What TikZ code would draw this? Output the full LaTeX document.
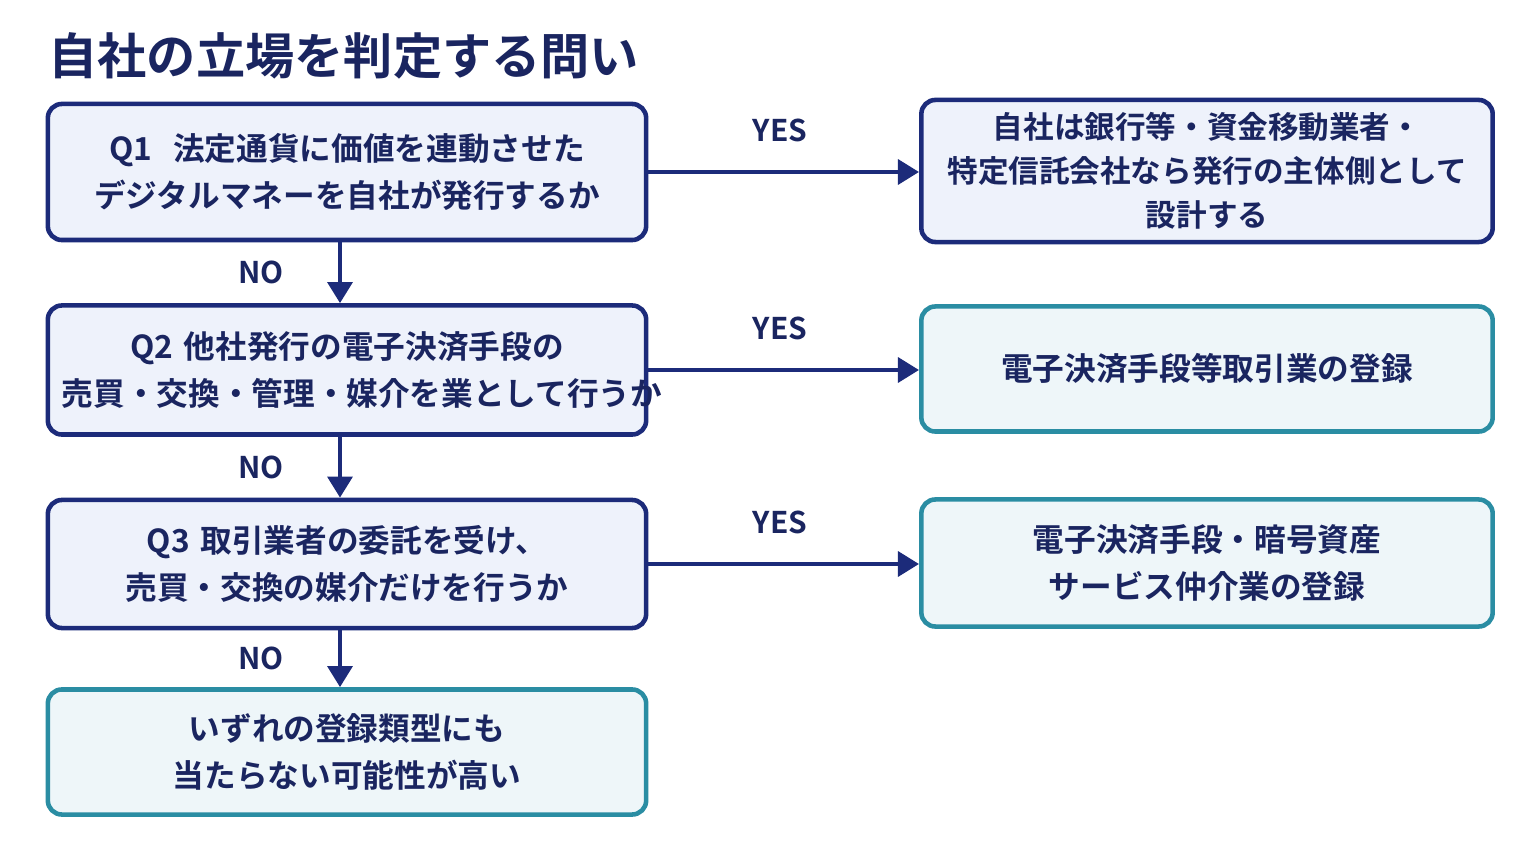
\documentclass[tikz,border=0pt]{standalone}
\usepackage{fontspec}
\setmainfont{Noto Sans CJK JP}[BoldFont={Noto Sans CJK JP Bold}]
\usetikzlibrary{positioning,arrows.meta}
\definecolor{navy}{HTML}{1C2B7A}
\definecolor{ink}{HTML}{1A2560}
\definecolor{teal}{HTML}{2A8DA3}
\definecolor{qfill}{HTML}{EEF2FB}
\definecolor{afill}{HTML}{EEF6F9}
\tikzset{
  qbox/.style={draw=navy, fill=qfill, line width=1.3pt, rounded corners=4pt, align=center,
    text width=5.7cm, inner sep=0pt, minimum width=5.98cm, minimum height=1.32cm,
    font=\bfseries\fontsize{9pt}{13.5pt}\selectfont, text=ink},
  abox/.style={qbox, draw=teal, fill=afill, minimum width=5.71cm, text width=5.4cm},
  lbl/.style={font=\bfseries\fontsize{8.5pt}{10pt}\selectfont, text=ink},
  link/.style={-{Triangle[length=6pt,width=7pt]}, draw=navy, line width=1.3pt}
}
\begin{document}
\begin{tikzpicture}[x=0.01cm,y=-0.01cm]
\useasboundingbox[fill=white] (0,0) rectangle (1536,864);
\node[anchor=west, font=\bfseries\fontsize{14pt}{16pt}\selectfont, text=ink] (title) at (36,56) {自社の立場を判定する問い};
% questions
\node[qbox, minimum height=1.36cm] (q1) at (347,172) {Q1\ \ 法定通貨に価値を連動させた\\デジタルマネーを自社が発行するか};
\node[qbox, minimum height=1.29cm] (q2) at (347,370) {Q2\ 他社発行の電子決済手段の\\売買・交換・管理・媒介を業として行うか};
\node[qbox, minimum height=1.28cm] (q3) at (347,564) {Q3\ 取引業者の委託を受け、\\売買・交換の媒介だけを行うか};
\node[abox, minimum width=5.98cm, text width=5.7cm, minimum height=1.25cm] (none) at (347,752) {いずれの登録類型にも\\当たらない可能性が高い};
% answers
\node[qbox, minimum width=5.71cm, text width=5.5cm, minimum height=1.42cm, font=\bfseries\fontsize{8.7pt}{12.5pt}\selectfont] (r1) at (1207,171) {自社は銀行等・資金移動業者・\\特定信託会社なら発行の主体側として\\設計する};
\node[abox, minimum height=1.25cm] (r2) at (1207,369) {電子決済手段等取引業の登録};
\node[abox, minimum height=1.27cm] (r3) at (1207,563) {電子決済手段・暗号資産\\サービス仲介業の登録};
% yes arrows
\foreach \a/\b in {q1/r1,q2/r2,q3/r3}{
  \draw[link] (\a.east) -- (\a.east -| \b.west);
  \node[lbl, above=5pt] at (\a.east -| 780,0) {YES};
}
% no arrows
\foreach \a/\b in {q1/q2,q2/q3,q3/none}{
  \draw[link] (\a.south -| 340,0) -- (\b.north -| 340,0) node[lbl, midway, left=12pt] {NO};
}
\end{tikzpicture}
\end{document}
